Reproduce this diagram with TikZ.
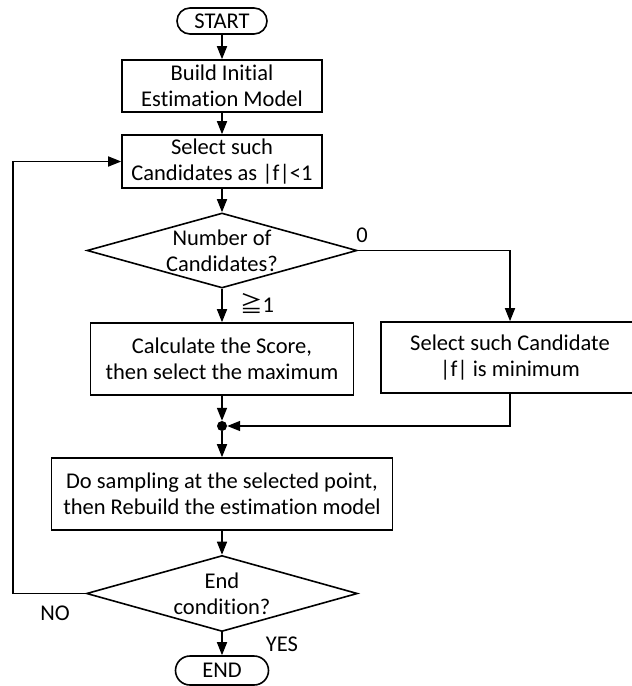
\documentclass[tikz,border=0pt]{standalone}
\usepackage{fontspec}
\setmainfont{Carlito}[RawFeature={-liga;-clig;-calt;-dlig}]
\newfontfamily\cjkfont{Noto Sans CJK JP}
\usetikzlibrary{shapes.geometric,shapes.misc,arrows.meta}

\begin{document}
\begin{tikzpicture}[x=1pt,y=-1pt,
  every node/.style={font=\fontsize{22.5}{26}\selectfont},
  line/.style={line width=1.6pt},
  flow/.style={line, -{Triangle[length=13pt,width=10pt]}},
  proc/.style={draw, line width=1.6pt, align=center, inner sep=0pt},
  term/.style={draw, line width=1.6pt, rounded rectangle, inner sep=0pt},
  decision/.style={draw, line width=1.6pt, diamond, inner sep=0pt}]
  \clip (0,0) rectangle (632,686);

  % main column
  \node[term, minimum width=90pt, minimum height=26pt] (start) at (222,21) {START};
  \node[proc, minimum width=200pt, minimum height=52pt] (build) at (222,86) {Build Initial\\Estimation Model};
  \node[proc, minimum width=200pt, minimum height=53pt] (sel) at (222,161.5) {Select such\\Candidates as |f|<1};
  \node[decision, minimum width=270pt, minimum height=75pt] (d1) at (222,250.5) {};
  \node[align=center] (d1text) at (d1) {Number of\\Candidates?};
  \node[proc, minimum width=263pt, minimum height=72pt] (calc) at (222,359) {Calculate the Score,\\then select the maximum};
  \node[proc, minimum width=258pt, minimum height=71pt] (minf) at (510,357.5) {Select such Candidate\\|f| is minimum};
  \node[circle, fill, inner sep=0pt, minimum size=10pt] (junc) at (222,426) {};
  \node[proc, minimum width=341pt, minimum height=72pt] (samp) at (222,494) {Do sampling at the selected point,\\then Rebuild the estimation model};
  \node[decision, minimum width=271pt, minimum height=76pt] (d2) at (222,593.5) {};
  \node[align=center] (d2text) at (d2) {End\\condition?};
  \node[term, minimum width=93pt, minimum height=29pt] (end) at (222,670.5) {END};
  \coordinate (loop) at (13,593.5);

  % connectors
  \draw[flow] (start) -- (build);
  \draw[flow] (build) -- (sel);
  \draw[flow] (sel) -- (d1);
  \draw[flow] (d1) -- (calc);
  \draw[flow] (d1.east) -| (minf.north);
  \draw[flow] (calc) -- (junc);
  \draw[flow] (minf.south) |- (junc.east);
  \draw[flow] (junc) -- (samp);
  \draw[flow] (samp) -- (d2);
  \draw[flow] (d2) -- (end);
  \draw[flow] (d2.west) -- (loop) |- (sel.west);

  % branch labels
  \node (lzero) at (362,235) {0};
  \node (lge) at (257,303) {{\cjkfont ≧}1};
  \node (lno) at (55,613) {NO};
  \node (lyes) at (282,644) {YES};
\end{tikzpicture}
\end{document}
